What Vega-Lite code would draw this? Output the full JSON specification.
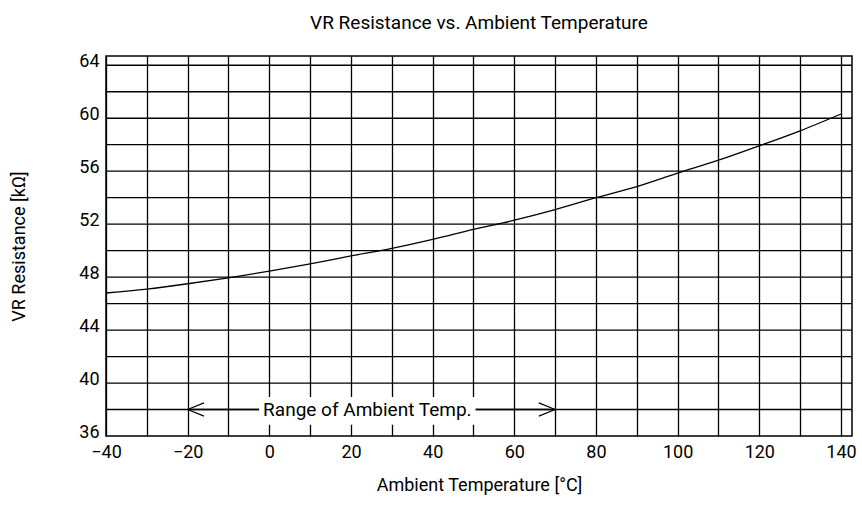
{
  "$schema": "https://vega.github.io/schema/vega-lite/v6.json",
  "width": 746,
  "height": 380,
  "autosize": {"type": "none"},
  "padding": {"left": 106, "top": 56, "right": 10, "bottom": 87},
  "background": "white",
  "config": {
    "font": "Roboto, sans-serif",
    "view": {"stroke": "black", "strokeWidth": 1.5}
  },
  "title": {
    "text": "VR Resistance vs. Ambient Temperature",
    "fontSize": 19,
    "fontWeight": "normal",
    "color": "black",
    "offset": 19
  },
  "datasets": {
    "curve": [
      {"temp": -40, "res": 46.8},
      {"temp": -30, "res": 47.1},
      {"temp": -20, "res": 47.5},
      {"temp": -10, "res": 47.95},
      {"temp": 0, "res": 48.45},
      {"temp": 10, "res": 49.0},
      {"temp": 20, "res": 49.6},
      {"temp": 30, "res": 50.17},
      {"temp": 40, "res": 50.85},
      {"temp": 50, "res": 51.6},
      {"temp": 60, "res": 52.3},
      {"temp": 70, "res": 53.1},
      {"temp": 80, "res": 54.0},
      {"temp": 90, "res": 54.84},
      {"temp": 100, "res": 55.85},
      {"temp": 110, "res": 56.83},
      {"temp": 120, "res": 57.92},
      {"temp": 130, "res": 59.05},
      {"temp": 140, "res": 60.32}
    ],
    "ygrid": [
      {"gv": 38}, {"gv": 40}, {"gv": 42}, {"gv": 44}, {"gv": 46}, {"gv": 48}, {"gv": 50},
      {"gv": 52}, {"gv": 54}, {"gv": 56}, {"gv": 58}, {"gv": 60}, {"gv": 62}, {"gv": 64}
    ],
    "arrowline": [{"x1": -20, "x2": 70, "y1": 38, "y2": 38}],
    "heads": [
      {"x1": -20, "y1": 38, "x2": -16, "y2": 38.5},
      {"x1": -20, "y1": 38, "x2": -16, "y2": 37.5},
      {"x1": 70, "y1": 38, "x2": 66, "y2": 38.5},
      {"x1": 70, "y1": 38, "x2": 66, "y2": 37.5}
    ],
    "labelbox": [{"x1": -2.5, "x2": 50.5, "y1": 36.85, "y2": 38.95, "xc": 24, "yc": 38, "label": "Range of Ambient Temp."}]
  },
  "layer": [
    {
      "data": {"name": "curve"},
      "mark": {"type": "line", "color": "black", "strokeWidth": 1.3, "interpolate": "monotone", "clip": true},
      "encoding": {
        "x": {
          "field": "temp",
          "type": "quantitative",
          "scale": {"domain": [-40, 142.7], "nice": false, "zero": false},
          "axis": {
            "title": "Ambient Temperature [°C]",
            "values": [-40, -30, -20, -10, 0, 10, 20, 30, 40, 50, 60, 70, 80, 90, 100, 110, 120, 130, 140],
            "labelExpr": "datum.value % 20 == 0 ? datum.label : ''",
            "grid": true,
            "gridColor": "black",
            "gridOpacity": 1,
            "gridWidth": 1.3,
            "ticks": false,
            "domain": false,
            "labelFontSize": 18,
            "labelColor": "black",
            "labelPadding": 7,
            "labelFlush": false,
            "labelOverlap": false,
            "titleFontSize": 18,
            "titleFontWeight": "normal",
            "titleColor": "black",
            "titlePadding": 15
          }
        },
        "y": {
          "field": "res",
          "type": "quantitative",
          "scale": {"domain": [36, 64.7], "nice": false, "zero": false},
          "axis": {
            "title": "VR Resistance [kΩ]",
            "values": [36, 40, 44, 48, 52, 56, 60, 64],
            "grid": false,
            "ticks": false,
            "domain": false,
            "labelFontSize": 18,
            "labelColor": "black",
            "labelPadding": 7,
            "labelOffset": -4,
            "labelFlush": false,
            "labelOverlap": false,
            "titleFontSize": 18,
            "titleFontWeight": "normal",
            "titleColor": "black",
            "titlePadding": 50
          }
        }
      }
    },
    {
      "data": {"name": "ygrid"},
      "mark": {"type": "rule", "color": "black", "strokeWidth": 1.3},
      "encoding": {
        "y": {"field": "gv", "type": "quantitative"}
      }
    },
    {
      "data": {"name": "arrowline"},
      "mark": {"type": "rule", "color": "black", "strokeWidth": 1.3},
      "encoding": {
        "x": {"field": "x1", "type": "quantitative"},
        "x2": {"field": "x2"},
        "y": {"field": "y1", "type": "quantitative"},
        "y2": {"field": "y2"}
      }
    },
    {
      "data": {"name": "heads"},
      "mark": {"type": "rule", "color": "black", "strokeWidth": 1.2},
      "encoding": {
        "x": {"field": "x1", "type": "quantitative"},
        "x2": {"field": "x2"},
        "y": {"field": "y1", "type": "quantitative"},
        "y2": {"field": "y2"}
      }
    },
    {
      "data": {"name": "labelbox"},
      "mark": {"type": "rect", "color": "white"},
      "encoding": {
        "x": {"field": "x1", "type": "quantitative"},
        "x2": {"field": "x2"},
        "y": {"field": "y1", "type": "quantitative"},
        "y2": {"field": "y2"}
      }
    },
    {
      "data": {"name": "labelbox"},
      "mark": {"type": "text", "color": "black", "fontSize": 19, "align": "center", "baseline": "middle"},
      "encoding": {
        "x": {"field": "xc", "type": "quantitative"},
        "y": {"field": "yc", "type": "quantitative"},
        "text": {"field": "label"}
      }
    }
  ]
}
